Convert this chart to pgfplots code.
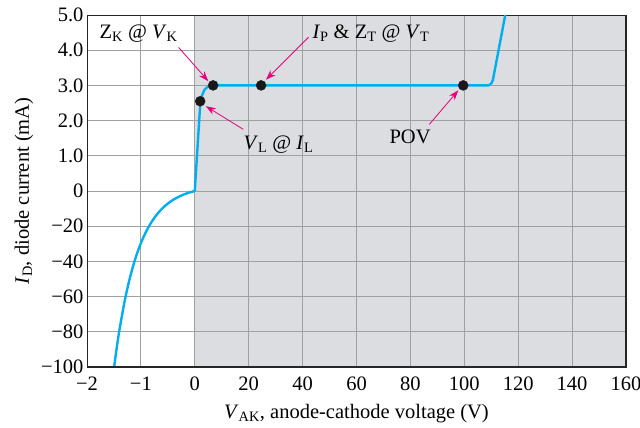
\documentclass[border=0pt]{standalone}
\usepackage{pgfplots}
\pgfplotsset{compat=1.18}
\usepackage{fontspec}
\setmainfont{Liberation Serif}
\usetikzlibrary{arrows.meta}
\definecolor{curvec}{RGB}{0,174,239}
\definecolor{shadegray}{RGB}{220,221,224}
\definecolor{gridc}{RGB}{160,160,160}
\definecolor{mag}{RGB}{230,0,126}
\begin{document}
\begin{tikzpicture}[font=\fontsize{20.5bp}{24bp}\selectfont]
\begin{axis}[
  set layers,
  scale only axis,
  width=539bp, height=352bp,
  xmin=-2, xmax=8, ymin=-5, ymax=5,
  xtick={-2,-1,0,1,2,3,4,5,6,7,8},
  xticklabels={−2,−1,0,20,40,60,80,100,120,140,160},
  ytick={-5,-4,-3,-2,-1,0,1,2,3,4,5},
  yticklabels={−100,−80,−60,−40,−20,0,1.0,2.0,3.0,4.0,5.0},
  major tick length=0.01pt,
  tick style={draw=none},
  xmajorgrids, ymajorgrids,
  major grid style={draw=gridc, line width=0.9pt},
  axis line style={draw=black!85, line width=0.9pt},
  xticklabel style={yshift=-6bp},
  xlabel={\textit{V}\textsubscript{AK}, anode-cathode voltage (V)},
  xlabel style={yshift=-7bp},
  ylabel={\textit{I}\textsubscript{D}, diode current (mA)},
  ylabel style={yshift=1bp},
  clip=false,
]
\begin{pgfonlayer}{axis background}
\fill[shadegray] (axis cs:0,-5) rectangle (axis cs:8,5);
\end{pgfonlayer}
% left branch
\addplot[curvec, line width=2.4pt, smooth] coordinates {
 (-1.497,-5) (-1.45,-4.469) (-1.4,-3.965) (-1.3,-3.116) (-1.2,-2.442) (-1.1,-1.906) (-1.0,-1.480)
 (-0.9,-1.143) (-0.8,-0.874) (-0.7,-0.660) (-0.6,-0.490) (-0.5,-0.356) (-0.4,-0.249)
 (-0.3,-0.164) (-0.2,-0.0964) (-0.1,-0.0427) (0,0)
};
% forward branch
\addplot[curvec, line width=2.4pt, line join=round] coordinates {
 (0,0) (0.10,2.45) (0.13,2.7) (0.18,2.88) (0.25,2.97) (0.34,3.0) (5.45,3.0) (5.50,3.05) (5.53,3.15) (5.76,5.0)
};
% points
\addplot[only marks, mark=*, mark size=5bp, mark options={fill=black!90, draw=black!90}] coordinates {
 (0.10,2.55) (0.34,3.0) (1.23,3.0) (4.98,3.0)
};
% arrows
\draw[mag, line width=0.8pt, -{Stealth[length=10bp,width=7bp]}] (axis cs:-0.30,4.08) -- (axis cs:0.25,3.12);
\draw[mag, line width=0.8pt, -{Stealth[length=10bp,width=7bp]}] (axis cs:2.11,4.37) -- (axis cs:1.32,3.16);
\draw[mag, line width=0.8pt, -{Stealth[length=10bp,width=7bp]}] (axis cs:0.90,1.75) -- (axis cs:0.205,2.41);
\draw[mag, line width=0.8pt, -{Stealth[length=10bp,width=7bp]}] (axis cs:4.35,1.89) -- (axis cs:4.89,2.86);
% labels
\node[anchor=base west, inner sep=0pt] at (axis cs:-1.77,4.34) {Z\textsubscript{K} @ \textit{V}\textsubscript{K}};
\node[anchor=base west, inner sep=0pt] at (axis cs:2.18,4.34) {\textit{I}\textsubscript{P} \& Z\textsubscript{T} @ \textit{V}\textsubscript{T}};
\node[anchor=base west, inner sep=0pt] at (axis cs:0.90,1.18) {\textit{V}\textsubscript{L} @ \textit{I}\textsubscript{L}};
\node[anchor=base west, inner sep=0pt] at (axis cs:3.61,1.35) {POV};
% thick bottom and right frame
\draw[black!85, line width=2.2pt] (rel axis cs:0,0) -- (rel axis cs:1,0) -- (rel axis cs:1,1);
\end{axis}
\pgfresetboundingbox
\path (-87bp,-61bp) rectangle (553bp,367bp);
\end{tikzpicture}
\end{document}
